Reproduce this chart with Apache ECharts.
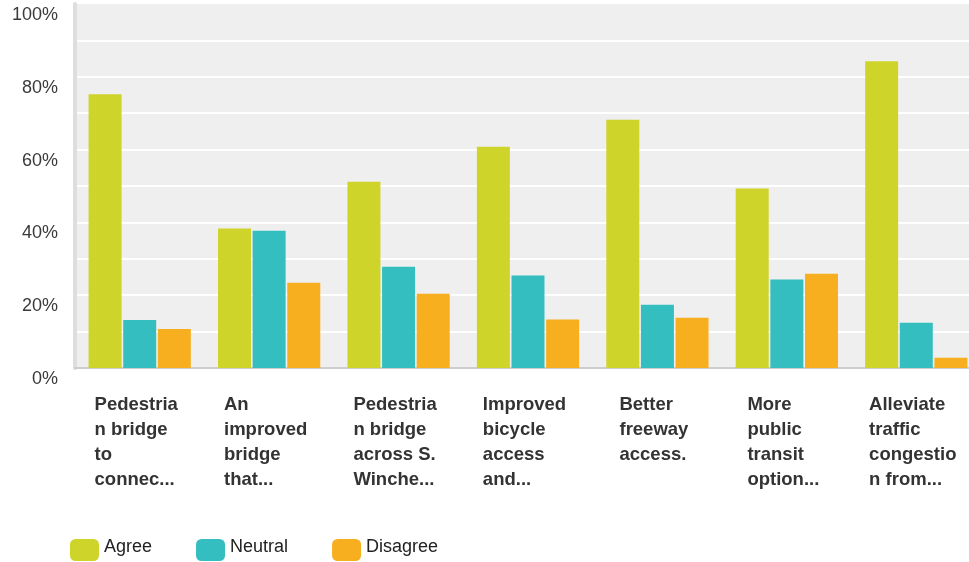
<!DOCTYPE html>
<html>
<head>
<meta charset="utf-8">
<script src="https://cdn.jsdelivr.net/npm/echarts@6/dist/echarts.min.js"></script>
<style>
html,body{margin:0;padding:0;background:#fff;overflow:hidden;width:969px;height:562px;}
#chart{width:981px;height:562px;}
</style>
</head>
<body>
<div id="chart"></div>
<script>
const categories = [
  'Pedestria\nn bridge\nto\nconnec...',
  'An\nimproved\nbridge\nthat...',
  'Pedestria\nn bridge\nacross S.\nWinche...',
  'Improved\nbicycle\naccess\nand...',
  'Better\nfreeway\naccess.',
  'More\npublic\ntransit\noption...',
  'Alleviate\ntraffic\ncongestio\nn from...'
];
const seriesNames = ['Agree', 'Neutral', 'Disagree'];
const agree = [75.2, 38.3, 51.2, 60.8, 68.2, 49.3, 84.3];
const neutral = [13.2, 37.7, 27.8, 25.4, 17.4, 24.3, 12.4];
const disagree = [10.7, 23.4, 20.4, 13.3, 13.8, 25.9, 2.8];
const yTickLabels = ['0%', '20%', '40%', '60%', '80%', '100%'];
const colors = ['#cfd42b', '#34bec0', '#f7af1f'];

const font = 'Liberation Sans, Arial, sans-serif';
const chart = echarts.init(document.getElementById('chart'), null, {renderer: 'canvas'});
const values = [agree, neutral, disagree];

chart.setOption({
  animation: false,
  textStyle: {fontFamily: font},
  grid: {
    left: 75, right: 0, top: 4, bottom: 194,
    show: true, backgroundColor: '#efefef', borderWidth: 0,
    containLabel: false
  },
  legend: {
    left: 70, top: 538,
    itemWidth: 29, itemHeight: 22, itemGap: 44,
    icon: 'roundRect',
    padding: 0,
    formatter: n => '{t|' + n + '}',
    textStyle: {
      fontSize: 18, color: '#222', fontFamily: font,
      rich: {t: {fontSize: 18, color: '#222', fontFamily: font, padding: [0, 0, 6, 0]}}
    },
    data: seriesNames
  },
  xAxis: {
    type: 'category',
    data: categories,
    axisLine: {show: true, lineStyle: {color: '#cdcdcd', width: 2}},
    axisTick: {show: false},
    axisLabel: {
      interval: 0,
      margin: 24,
      align: 'center',
      padding: [0, 7, 0, 0],
      formatter: v => '{a|' + v + '}',
      rich: {
        a: {align: 'left', fontSize: 18.5, fontWeight: 'bold', color: '#333', lineHeight: 25, fontFamily: font}
      }
    }
  },
  yAxis: {
    type: 'value',
    min: 0, max: 100, interval: 10,
    axisLine: {show: true, lineStyle: {color: '#dedede', width: 4}},
    axisTick: {show: false},
    splitLine: {show: true, showMinLine: false, showMaxLine: false, lineStyle: {color: '#ffffff', width: 2}},
    axisLabel: {
      margin: 17,
      fontSize: 18,
      color: '#3a3a3a',
      verticalAlign: 'top',
      padding: [2, 0, 0, 0],
      formatter: v => {
        const i = yTickLabels.indexOf(Math.round(v) + '%');
        return i >= 0 ? yTickLabels[i] : '';
      }
    }
  },
  series: seriesNames.map((name, i) => ({
    name: name,
    type: 'bar',
    data: values[i],
    barCategoryGap: '21%',
    barGap: '5%',
    itemStyle: {color: colors[i]}
  }))
});
</script>
</body>
</html>
